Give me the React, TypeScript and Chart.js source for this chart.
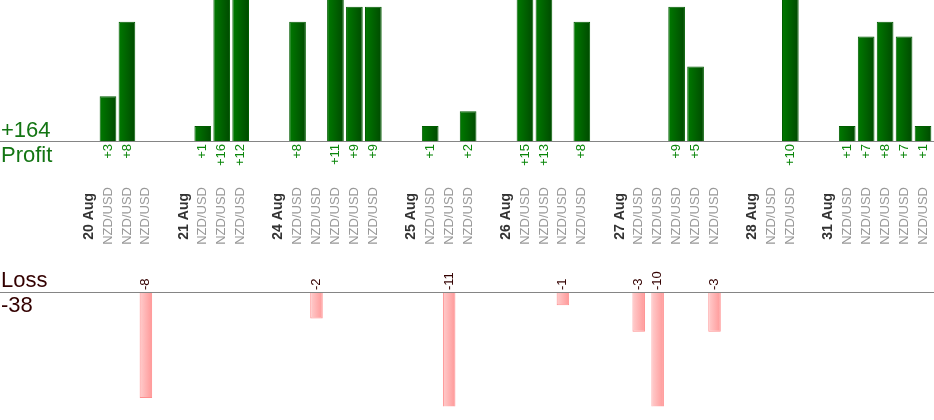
import { useEffect, useRef } from 'react'
import { Chart, ChartConfiguration, Plugin, ScriptableContext } from 'chart.js/auto'

// trading days and the pip result of every NZD/USD trade on that day
const days = ['20 Aug', '21 Aug', '24 Aug', '25 Aug', '26 Aug', '27 Aug', '28 Aug', '31 Aug']
const pair = 'NZD/USD'
const trades = [
  [3, 8, -8],
  [1, 16, 12],
  [8, -2, 11, 9, 9],
  [1, -11, 2],
  [15, 13, -1, 8],
  [-3, -10, 9, 5, -3],
  [0, 10],
  [1, 7, 8, 7, 1],
]

// visible value windows of the two panels
const profitMax = 9.45
const lossMin = -8.63

const FONT = "'Liberation Sans', Arial, sans-serif"
const GREEN = '#137513'
const DARK_RED = '#330000'

// one slot gap, one slot for the day label, then one slot per trade
const dayAxis: string[] = []
const pairAxis: string[] = []
const profitSlots: (number | null)[] = []
const lossSlots: (number | null)[] = []
days.forEach((d, i) => {
  dayAxis.push('', d)
  pairAxis.push('', '')
  profitSlots.push(null, null)
  lossSlots.push(null, null)
  trades[i].forEach((v) => {
    dayAxis.push('')
    pairAxis.push(pair)
    profitSlots.push(v > 0 ? v : null)
    lossSlots.push(v < 0 ? v : null)
  })
})
const all = trades.flat()
const totalProfit = all.filter((v) => v > 0).reduce((a, b) => a + b, 0)
const totalLoss = all.filter((v) => v < 0).reduce((a, b) => a + b, 0)

const PAD = { left: 60.6, right: 1.5 }
const PROFIT_PCT = 0.88
const LOSS_PCT = 0.66

function gradient(from: string, to: string, pct: number) {
  return (c: ScriptableContext<'bar'>) => {
    const chart = c.chart
    if (!chart.chartArea || c.type !== 'data') return from
    const xs = chart.scales.x
    const x = xs.getPixelForValue(c.dataIndex)
    const half = (xs.width / pairAxis.length) * pct / 2
    const g = chart.ctx.createLinearGradient(x - half, 0, x + half, 0)
    g.addColorStop(0, from)
    g.addColorStop(1, to)
    return g
  }
}

function decor(kind: 'profit' | 'loss'): Plugin<'bar'> {
  return {
    id: 'decor',
    afterDatasetsDraw(chart) {
      const { ctx } = chart
      const base = chart.scales.y.getPixelForValue(0)
      ctx.save()
      ctx.strokeStyle = '#858585'
      ctx.lineWidth = 1
      ctx.beginPath()
      ctx.moveTo(0, base + 0.5)
      ctx.lineTo(chart.width, base + 0.5)
      ctx.stroke()

      const meta = chart.getDatasetMeta(0)
      const data = chart.data.datasets[0].data as (number | null)[]
      ctx.font = `13px ${FONT}`
      ctx.textBaseline = 'middle'
      meta.data.forEach((el, i) => {
        const v = data[i]
        if (v == null) return
        ctx.save()
        if (kind === 'profit') {
          ctx.translate(el.x, base + 3)
          ctx.rotate(-Math.PI / 2)
          ctx.textAlign = 'right'
          ctx.fillStyle = '#0a860a'
          ctx.fillText('+' + v, 0, 0)
        } else {
          ctx.translate(el.x, base - 2)
          ctx.rotate(-Math.PI / 2)
          ctx.textAlign = 'left'
          ctx.fillStyle = DARK_RED
          ctx.fillText(String(v), 0, 0)
        }
        ctx.restore()
      })
      ctx.restore()
    },
  }
}

// rotated category labels hanging below the profit baseline
// (mirror + negative padding keeps the padding out of the chart area;
// lineHeight 0 keeps the rotated text centred on its slot)
function labelAxis(labels: string[] | undefined, drop: number, weight: number, height: number, color: string, font: object) {
  return {
    type: 'category',
    ...(labels ? { labels } : {}),
    position: 'bottom',
    weight,
    offset: true,
    grid: { display: false, drawTicks: false },
    border: { display: false },
    ticks: {
      autoSkip: false,
      minRotation: 90,
      maxRotation: 90,
      mirror: true,
      padding: -drop,
      color,
      font: { ...font, lineHeight: 0 },
    },
    afterFit: (s: { height: number }) => {
      s.height = height
    },
  }
}

export default function App() {
  const topRef = useRef<HTMLCanvasElement>(null)
  const bottomRef = useRef<HTMLCanvasElement>(null)

  useEffect(() => {
    document.body.style.margin = '0'
    Chart.defaults.font.family = FONT
    if (!topRef.current || !bottomRef.current) return

    const top = new Chart(topRef.current, {
      type: 'bar',
      data: {
        labels: pairAxis,
        datasets: [
          {
            data: profitSlots,
            backgroundColor: gradient('#007a00', '#004a00', PROFIT_PCT),
            borderColor: '#005c00',
            borderWidth: 1,
            barPercentage: PROFIT_PCT,
            categoryPercentage: 1,
          },
        ],
      },
      options: {
        animation: false,
        responsive: true,
        maintainAspectRatio: false,
        layout: { padding: { left: PAD.left, right: PAD.right, top: 0, bottom: 0 } },
        plugins: { legend: { display: false }, tooltip: { enabled: false } },
        scales: {
          y: { display: false, min: 0, max: profitMax },
          xd: labelAxis(dayAxis, 52, 0, 0, '#333333', { size: 14, weight: 'bold' }),
          x: labelAxis(undefined, 46, 1, 121, '#999999', { size: 13 }),
        },
      },
      plugins: [decor('profit')],
    } as ChartConfiguration<'bar'>)

    const bottom = new Chart(bottomRef.current, {
      type: 'bar',
      data: {
        labels: pairAxis,
        datasets: [
          {
            data: lossSlots,
            backgroundColor: gradient('#ffcdcd', '#ff9898', LOSS_PCT),
            borderColor: '#ff8e8e',
            borderWidth: 1,
            barPercentage: LOSS_PCT,
            categoryPercentage: 1,
          },
        ],
      },
      options: {
        animation: false,
        responsive: true,
        maintainAspectRatio: false,
        layout: { padding: { left: PAD.left, right: PAD.right, top: 30, bottom: 13.7 } },
        plugins: { legend: { display: false }, tooltip: { enabled: false } },
        scales: {
          y: { display: false, min: lossMin, max: 0 },
          x: { display: false, offset: true },
        },
      },
      plugins: [decor('loss')],
    } as ChartConfiguration<'bar'>)

    return () => {
      top.destroy()
      bottom.destroy()
    }
  }, [])

  const label = (text: string, topPx: number, color: string) => (
    <div
      style={{
        position: 'absolute',
        left: 1,
        top: topPx,
        font: `22px/22px ${FONT}`,
        color,
        whiteSpace: 'nowrap',
      }}
    >
      {text}
    </div>
  )

  return (
    <div style={{ position: 'relative', width: 934, height: 420, background: '#fff', overflow: 'hidden' }}>
      <div style={{ position: 'absolute', left: 0, top: 0, width: 934, height: 262 }}>
        <canvas ref={topRef} />
      </div>
      <div style={{ position: 'absolute', left: 0, top: 262, width: 934, height: 158 }}>
        <canvas ref={bottomRef} />
      </div>
      {label('+' + totalProfit, 119.4, GREEN)}
      {label('Profit', 144.4, GREEN)}
      {label('Loss', 269, DARK_RED)}
      {label(String(totalLoss), 294.4, DARK_RED)}
    </div>
  )
}
